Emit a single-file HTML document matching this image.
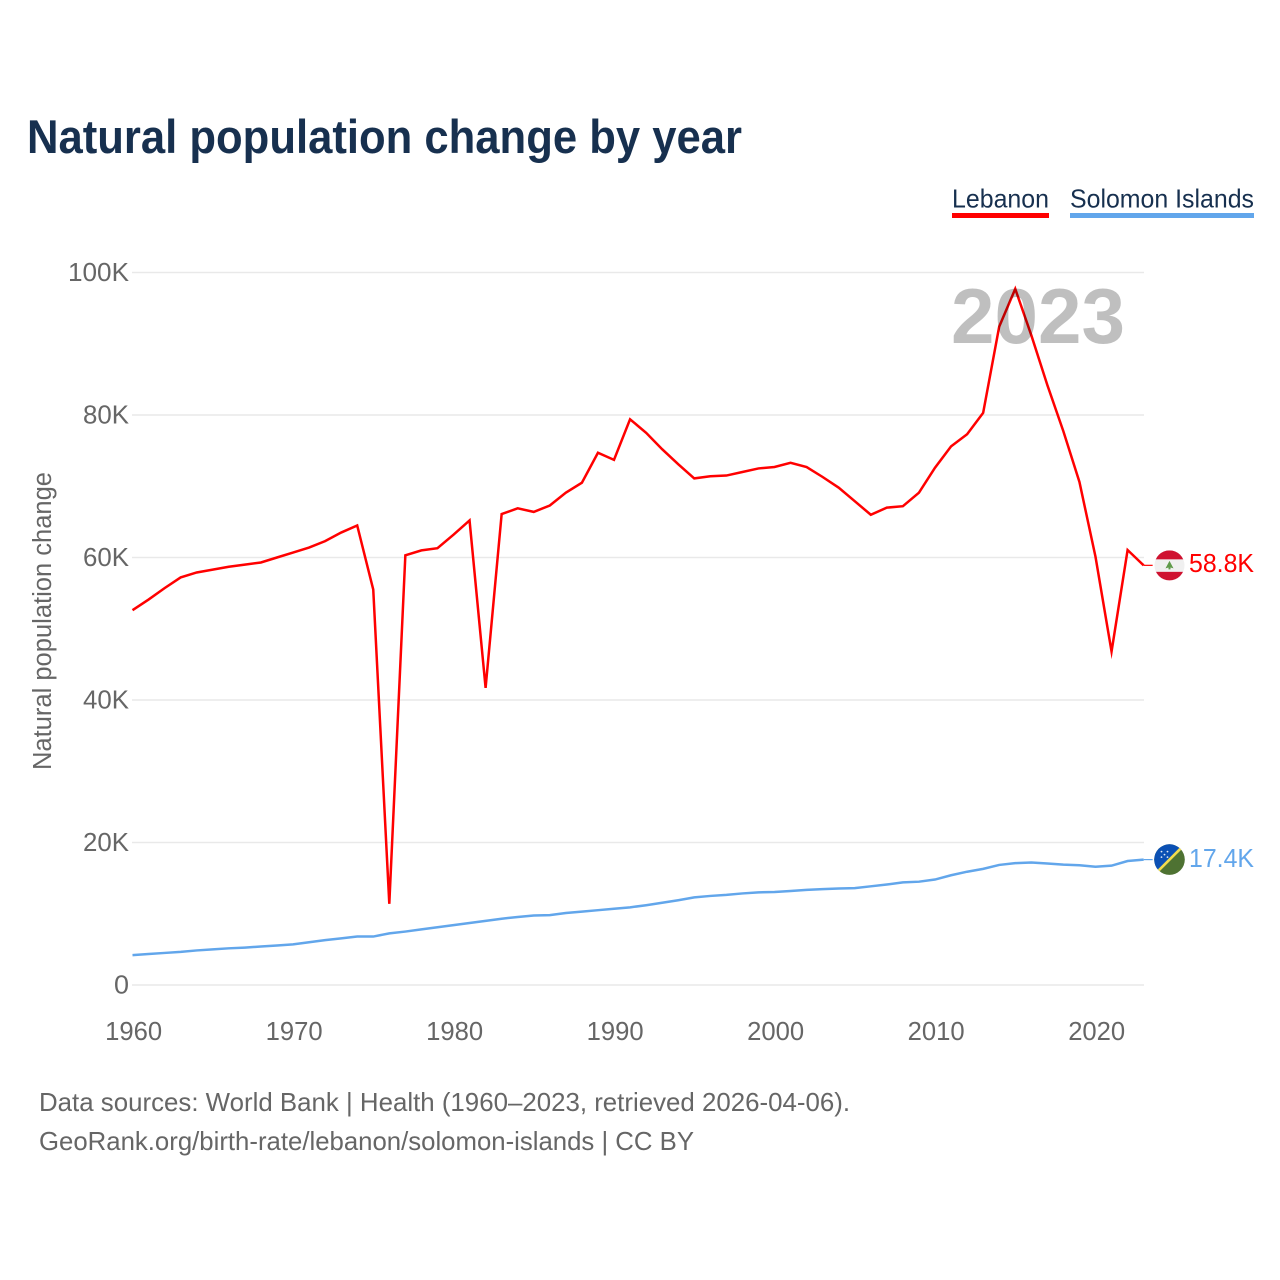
<!DOCTYPE html>
<html lang="en">
<head>
<meta charset="utf-8">
<title>Natural population change by year</title>
<style>
html,body{margin:0;padding:0;background:#fff;width:1280px;height:1280px;overflow:hidden}
svg{display:block}
text{font-family:"Liberation Sans",sans-serif}
.tick{font-size:25.5px;fill:#666}
.foot{font-size:26px;fill:#666}
.legend{font-size:26px;fill:#17304f}
</style>
</head>
<body>
<svg id="chart" xmlns="http://www.w3.org/2000/svg" width="1280" height="1280" viewBox="0 0 1280 1280">
  <rect width="1280" height="1280" fill="#fff"/>
  <text x="27" y="153" font-size="47" font-weight="700" fill="#17304f" textLength="715" lengthAdjust="spacingAndGlyphs">Natural population change by year</text>

  <g>
    <text class="legend" x="952" y="207.5" textLength="97" lengthAdjust="spacingAndGlyphs">Lebanon</text>
    <rect x="952" y="213" width="97" height="5" fill="#ff0000"/>
  </g>
  <g>
    <text class="legend" x="1070" y="207.5" textLength="184" lengthAdjust="spacingAndGlyphs">Solomon Islands</text>
    <rect x="1070" y="213" width="184" height="5" fill="#62a6eb"/>
  </g>

  <g id="grid"></g>
  <g id="yticks"></g>
  <g id="xticks"></g>
  <text transform="translate(51 621) rotate(-90)" text-anchor="middle" font-size="25.5" fill="#666" textLength="298" lengthAdjust="spacingAndGlyphs">Natural population change</text>

  <g id="series"></g>

  <text x="951" y="343" font-size="78" font-weight="700" fill="#000" fill-opacity="0.25" textLength="174" lengthAdjust="spacingAndGlyphs">2023</text>

  <g id="flag-lebanon">
    <clipPath id="clip-lb"><circle cx="0" cy="0" r="15"/></clipPath>
    <g clip-path="url(#clip-lb)">
      <rect x="-15" y="-15" width="30" height="30" fill="#f0f0f0"/>
      <rect x="-15" y="-15" width="30" height="9" fill="#cf1230"/>
      <rect x="-15" y="6.5" width="30" height="9" fill="#cf1230"/>
      <path d="M0 -4.5 L4 3 L1 2.2 L1 4 L-1 4 L-1 2.2 L-4 3 Z" fill="#5f9a4a"/>
    </g>
  </g>
  <g id="flag-solomon">
    <clipPath id="clip-sb"><circle cx="0" cy="0" r="15.3"/></clipPath>
    <g clip-path="url(#clip-sb)">
      <rect x="-16" y="-16" width="32" height="32" fill="#4e7232"/>
      <path d="M-16 -16 H16 L-16 16 Z" fill="#0b50b4"/>
      <path d="M-16 16 L16 -16" stroke="#f2dc4e" stroke-width="2.6" fill="none"/>
      <g fill="#dfe8f5">
        <circle cx="-8" cy="-8" r="0.9"/><circle cx="-2" cy="-8" r="0.9"/>
        <circle cx="-5" cy="-5" r="0.9"/>
        <circle cx="-8" cy="-2.5" r="0.9"/><circle cx="-2" cy="-2.5" r="0.9"/>
      </g>
    </g>
  </g>
  <g id="end-labels"></g>

  <text class="foot" x="39" y="1111" textLength="811" lengthAdjust="spacingAndGlyphs">Data sources: World Bank | Health (1960–2023, retrieved 2026-04-06).</text>
  <text class="foot" x="39" y="1150" textLength="655" lengthAdjust="spacingAndGlyphs">GeoRank.org/birth-rate/lebanon/solomon-islands | CC BY</text>
</svg>
<script>
const startYear = 1960;
const lebanonValues = [52.6,54.1,55.7,57.2,57.9,58.3,58.7,59.0,59.3,60.0,60.7,61.4,62.3,63.5,64.5,55.5,11.4,60.3,61.0,61.3,63.2,65.2,41.7,66.1,66.9,66.4,67.3,69.1,70.5,74.7,73.7,79.4,77.5,75.2,73.1,71.1,71.4,71.5,72.0,72.5,72.7,73.3,72.7,71.3,69.8,67.9,66.0,67.0,67.2,69.1,72.6,75.6,77.3,80.3,92.4,97.7,91.2,84.2,77.7,70.6,60.1,46.8,61.05,58.9];
const solomonValues = [4.2,4.35,4.5,4.65,4.85,5.0,5.15,5.25,5.4,5.55,5.7,6.0,6.3,6.55,6.8,6.8,7.25,7.5,7.8,8.1,8.4,8.7,9.0,9.3,9.55,9.75,9.8,10.1,10.3,10.5,10.7,10.9,11.2,11.55,11.9,12.3,12.5,12.65,12.85,13.0,13.05,13.2,13.35,13.45,13.55,13.6,13.85,14.1,14.4,14.5,14.8,15.4,15.9,16.3,16.85,17.1,17.2,17.05,16.9,16.8,16.6,16.75,17.4,17.6];
const endLabels = ["58.8K","17.4K"];
const yTickValues = [0,20,40,60,80,100];
const yTickLabels = ["0","20K","40K","60K","80K","100K"];
const xTickYears = [1960,1970,1980,1990,2000,2010,2020];

const NS = "http://www.w3.org/2000/svg";
const xScale = year => 132.5 + (year - 1960) * 16.05;
const yScale = value => 985 - value * 7.125;
function make(tag, parent, attrs, text) {
  const el = document.createElementNS(NS, tag);
  for (const k in attrs) el.setAttribute(k, attrs[k]);
  if (text !== undefined) el.textContent = text;
  parent.appendChild(el);
  return el;
}
const grid = document.getElementById("grid");
const yticks = document.getElementById("yticks");
const xticks = document.getElementById("xticks");
const seriesG = document.getElementById("series");
const labelsG = document.getElementById("end-labels");

yTickValues.forEach((v, i) => {
  const line = make("line", grid, {x1: 132, x2: 1144, y1: yScale(v), y2: yScale(v), stroke: "#e9e9e9", "stroke-width": 1.4});
  
  
  const label = yTickLabels[i];
  const t = make("text", yticks, {class: "tick", x: 129, y: yScale(v) + 8.5, "text-anchor": "end", textLength: label.length === 4 ? 61 : (label.length === 3 ? 46 : 15), lengthAdjust: "spacingAndGlyphs"}, label);
  
  
});
xTickYears.forEach(y => {
  const t = make("text", xticks, {class: "tick", x: xScale(y) + 1.2, y: 1040, "text-anchor": "middle", textLength: 57, lengthAdjust: "spacingAndGlyphs"}, String(y));
  
  
});

function drawSeries(values, color, flagId, label, labelDrop, nameLine, nameLabel, nameLeader) {
  const d = values.map((v, i) => (i ? "L" : "M") + xScale(startYear + i).toFixed(2) + " " + yScale(v).toFixed(2)).join(" ");
  const path = make("path", seriesG, {d: d, fill: "none", stroke: color, "stroke-width": 2.5, "stroke-linejoin": "miter", "stroke-miterlimit": 10});
  
  
  const lastIndex = values.length - 1;
  const lastX = xScale(startYear + lastIndex);
  const lastY = yScale(values[lastIndex]);
  const leader = make("line", seriesG, {x1: lastX, x2: lastX + 9, y1: lastY, y2: lastY, stroke: color, "stroke-width": 1.2});
  
  
  document.getElementById(flagId).setAttribute("transform", "translate(1169.5 " + lastY.toFixed(2) + ")");
  const t = make("text", labelsG, {x: 1189, y: lastY + labelDrop, "font-size": 26, fill: color, textLength: 65, lengthAdjust: "spacingAndGlyphs"}, label);
  
  
}
drawSeries(lebanonValues, "#ff0000", "flag-lebanon", endLabels[0], 6.5, "line-lebanon", "end-label-lebanon", "leader-lebanon");
drawSeries(solomonValues, "#62a6eb", "flag-solomon", endLabels[1], 7.5, "line-solomon-islands", "end-label-solomon-islands", "leader-solomon-islands");
</script>
</body>
</html>
